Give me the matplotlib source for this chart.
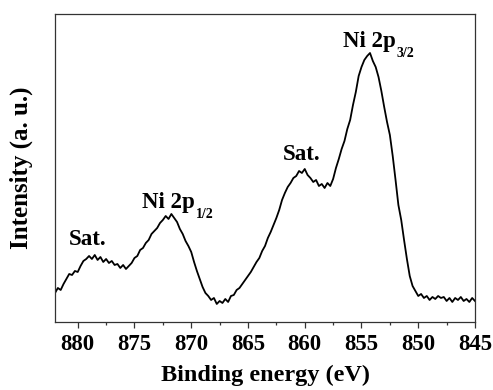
import matplotlib
matplotlib.use('Agg')
import matplotlib.pyplot as plt
import numpy as np

plt.rcParams['font.family'] = ['Liberation Serif', 'DejaVu Serif']
plt.rcParams['font.weight'] = 'bold'

# binding energy grid (eV), 0.25 eV steps from 882 down to 845
energy = np.arange(882.0, 844.99, -0.25)

# intensity (a. u.)
intensity = [
    37, 42, 40, 46, 51, 56, 55, 59, 58, 64,
    69, 71, 74, 71, 75, 70, 73, 68, 71, 67,
    69, 65, 66, 62, 65, 61, 64, 67, 72, 74,
    80, 82, 87, 90, 96, 99, 102, 107, 110, 114,
    111, 116, 112, 108, 101, 96, 89, 84, 78, 68,
    59, 51, 43, 37, 34, 30, 32, 26, 29, 27,
    31, 28, 34, 35, 40, 42, 46, 50, 54, 58,
    63, 68, 72, 79, 84, 92, 98, 105, 112, 120,
    130, 137, 143, 147, 152, 154, 159, 157, 161, 155,
    152, 148, 150, 144, 146, 142, 147, 144, 151, 162,
    171, 181, 189, 201, 210, 225, 238, 254, 263, 270,
    274, 277, 269, 263, 253, 239, 223, 208, 195, 174,
    150, 125, 110, 90, 71, 54, 44, 39, 34, 36,
    32, 34, 30, 33, 31, 34, 32, 33, 29, 32,
    28, 32, 30, 33, 29, 31, 28, 32, 29,
]

# peak labels: text, subscript, energy, intensity of baseline
labels = ['Sat.', 'Ni 2p', 'Sat.', 'Ni 2p']
subs = ['', '1/2', '', '3/2']
label_e = [880.8, 874.35, 861.9, 856.65]
label_i = [85, 122, 170, 283]

fig = plt.figure(figsize=(4.93, 3.90), dpi=100)
ax = fig.add_axes([0.1116, 0.1744, 0.8519, 0.7897])

ax.plot(energy, intensity, color='black', lw=1.3)

for t, s, e, i in zip(labels, subs, label_e, label_i):
    txt = ax.text(e, i, t, fontsize=16.5, fontweight='bold', ha='left', va='baseline')
    if s:
        ax.annotate(s, xy=(1, 0), xycoords=txt, xytext=(1, -3.3),
                    textcoords='offset points', fontsize=10, fontweight='bold',
                    ha='left', va='baseline')

ax.set_xlim(882, 845)
ax.set_ylim(8, 316)
ax.set_xticks([880, 875, 870, 865, 860, 855, 850, 845])
ax.set_xticks(np.arange(877.5, 845, -5), minor=True)
ax.set_yticks([])
ax.tick_params(axis='x', which='major', direction='out', length=4, width=0.9,
               labelsize=16.5, pad=5, color='#333333')
ax.tick_params(axis='x', which='minor', direction='out', length=2.5, width=0.9,
               color='#333333')
for lab in ax.get_xticklabels():
    lab.set_fontweight('bold')

for sp in ax.spines.values():
    sp.set_linewidth(0.9)
    sp.set_color('#333333')

ax.set_xlabel('Binding energy (eV)', fontsize=17.5, fontweight='bold', labelpad=7)
ax.set_ylabel('Intensity (a. u.)', fontsize=18, fontweight='bold', labelpad=16)

fig.savefig('out.png', dpi=100)
